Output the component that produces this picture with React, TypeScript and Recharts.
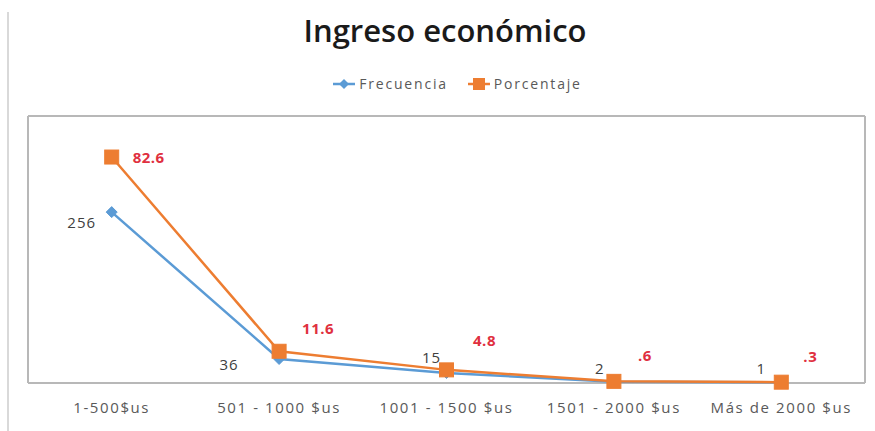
import React from "react";
import { LineChart, Line, XAxis, YAxis, CartesianGrid, LabelList, Legend } from "recharts";

const categories = ["1-500$us", "501 - 1000 $us", "1001 - 1500 $us", "1501 - 2000 $us", "Más de 2000 $us"];
const frecuencia = [256, 36, 15, 2, 1];
const porcentaje = [82.6, 11.6, 4.8, 0.6, 0.3];
const porcentajeLabels = ["82.6", "11.6", "4.8", ".6", ".3"];

const data = categories.map((c, i) => ({
  cat: c,
  Frecuencia: frecuencia[i],
  Porcentaje: porcentaje[i],
  pctLabel: porcentajeLabels[i],
}));

const BLUE = "#5b9bd5";
const ORANGE = "#ed7d31";
const RED = "#e0303f";
const FONT = "'Open Sans', sans-serif";

const freqOffsets = [
  [-30, 10],
  [-50, 5],
  [-15, -16],
  [-14, -14],
  [-20, -14],
];
const pctOffsets = [
  [37, 0],
  [39, -23],
  [38, -30],
  [31, -26],
  [29, -26],
];

const FreqLabel = (props: any) => {
  const { x, y, value, index } = props;
  const [dx, dy] = freqOffsets[index] || [0, 0];
  return (
    <text x={x + dx} y={y + dy} textAnchor="middle" dominantBaseline="central" fill="#404040" fontSize={15} letterSpacing={1} fontFamily={FONT}>
      {value}
    </text>
  );
};

const PctLabel = (props: any) => {
  const { x, y, value, index } = props;
  const [dx, dy] = pctOffsets[index] || [0, 0];
  return (
    <text x={x + dx} y={y + dy} textAnchor="middle" dominantBaseline="central" fill={RED} fontSize={15} fontWeight="bold" letterSpacing={0.5} fontFamily={FONT}>
      {value}
    </text>
  );
};

const Diamond = (props: any) => {
  const { cx, cy } = props;
  if (cx == null || cy == null) return null;
  const r = 5.5;
  return <path d={`M${cx},${cy - r}L${cx + r},${cy}L${cx},${cy + r}L${cx - r},${cy}Z`} fill={BLUE} stroke={BLUE} strokeWidth={1} />;
};

const Square = (props: any) => {
  const { cx, cy } = props;
  if (cx == null || cy == null) return null;
  const s = 14;
  return <rect x={cx - s / 2} y={cy - s / 2} width={s} height={s} fill={ORANGE} stroke={ORANGE} strokeWidth={1} />;
};

const LegendContent = (props: any) => {
  const items = props.payload || [];
  return (
    <div style={{ display: "flex", justifyContent: "center", alignItems: "center", gap: 20, fontFamily: FONT, fontSize: 14, letterSpacing: 1.8, color: "#595959" }}>
      {items.map((it: any) => {
        const isF = it.value === "Frecuencia";
        return (
          <div key={it.value} style={{ display: "flex", alignItems: "center" }}>
            <svg width={22} height={14} style={{ marginRight: 4 }}>
              <line x1={0} y1={7} x2={22} y2={7} stroke={it.color} strokeWidth={2.5} />
              {isF ? (
                <path d="M11,2L16,7L11,12L6,7Z" fill={it.color} />
              ) : (
                <rect x={5} y={1} width={12} height={12} fill={it.color} />
              )}
            </svg>
            <span>{it.value}</span>
          </div>
        );
      })}
    </div>
  );
};

export default function App() {
  return (
    <div style={{ position: "absolute", left: 0, top: 0, width: 875, height: 431, background: "#fff", overflow: "hidden" }}>
      <div style={{ position: "absolute", left: 7, top: 12, width: 2, height: 419, background: "#d9d9d9" }} />
      <div
        style={{
          position: "absolute",
          left: 0,
          top: 8,
          width: 890,
          textAlign: "center",
          fontFamily: FONT,
          fontWeight: 600,
          fontSize: 31,
          color: "#1a1a1a",
          lineHeight: "44px",
        }}
      >
        Ingreso económico
      </div>
      <LineChart width={875} height={431} data={data} margin={{ top: 116, right: 10, bottom: 18, left: 28 }}>
        <CartesianGrid
          stroke="#b8b8b8"
          strokeWidth={2}
          fill="none"
          horizontalCoordinatesGenerator={({ offset }: any) => [offset.top, offset.top + offset.height]}
          verticalCoordinatesGenerator={({ offset }: any) => [offset.left, offset.left + offset.width]}
        />
        <XAxis
          dataKey="cat"
          axisLine={false}
          tickLine={false}
          height={30}
          padding={{ left: 83.7, right: 83.7 }}
          tick={{ fill: "#595959", fontSize: 15, fontFamily: FONT, letterSpacing: 1.6 }}
          tickMargin={13}
          interval={0}
        />
        <YAxis yAxisId="f" hide domain={[0, 400]} />
        <YAxis yAxisId="p" hide domain={[0, 97.6]} orientation="right" />
        <Legend
          verticalAlign="middle"
          align="center"
          layout="horizontal"
          content={<LegendContent />}
          wrapperStyle={{ top: 74, left: 0, width: 915 }}
        />
        <Line
          yAxisId="f"
          type="linear"
          dataKey="Frecuencia"
          stroke={BLUE}
          strokeWidth={2.5}
          dot={<Diamond />}
          activeDot={false}
          isAnimationActive={false}
        >
          <LabelList dataKey="Frecuencia" content={<FreqLabel />} />
        </Line>
        <Line
          yAxisId="p"
          type="linear"
          dataKey="Porcentaje"
          stroke={ORANGE}
          strokeWidth={2.5}
          dot={<Square />}
          activeDot={false}
          isAnimationActive={false}
        >
          <LabelList dataKey="pctLabel" content={<PctLabel />} />
        </Line>
      </LineChart>
    </div>
  );
}
